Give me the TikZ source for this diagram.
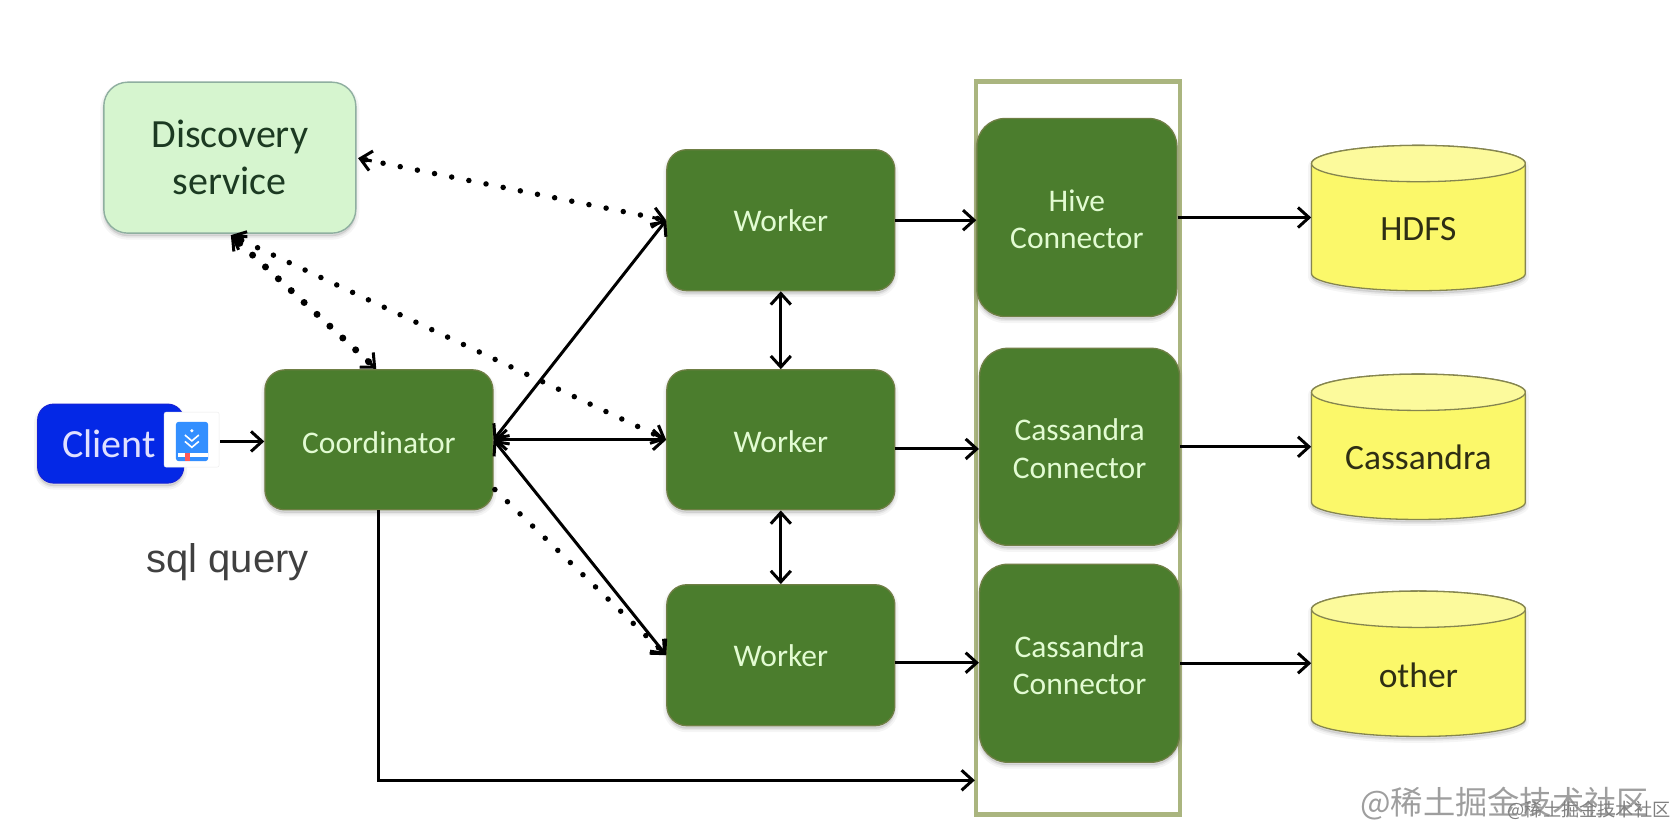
\documentclass[tikz,border=0pt]{standalone}
\usepackage{fontspec}
\setmainfont{Carlito}
\newfontfamily\lib{Liberation Sans}
\newfontfamily\cjk{Noto Sans CJK SC}
\usetikzlibrary{arrows.meta,calc}
\definecolor{wgreen}{HTML}{4B7D2D}
\definecolor{wedge}{HTML}{6F7F45}
\definecolor{wtext}{HTML}{E2FBD2}
\definecolor{lgreen}{HTML}{D6F5CF}
\definecolor{ledge}{HTML}{8FAFA0}
\definecolor{ltext}{HTML}{1C3A22}
\definecolor{cblue}{HTML}{0428E6}
\definecolor{frameol}{HTML}{AAB57F}
\definecolor{cyl}{HTML}{FBF86A}
\definecolor{cyltop}{HTML}{FCFA9C}
\definecolor{cyledge}{HTML}{85854F}
\definecolor{cyltext}{HTML}{2E2E14}
\tikzset{
 softshadow/.style={preaction={draw=black,fill=black,opacity=.04,line width=7pt,transform canvas={yshift=-3pt}},
   preaction={draw=black,fill=black,opacity=.06,line width=3pt,transform canvas={yshift=-3pt}}},
 greenbox/.style={softshadow,draw=wedge,fill=wgreen,line width=1.3pt,rounded corners=20pt,text=wtext,align=center,font=\fontsize{31.5}{37.5}\selectfont,inner sep=0pt},
 conn/.style={draw=black,line width=3pt,-{Straight Barb[length=11pt,width=20pt,line width=3pt]}},
 conn2/.style={draw=black,line width=3pt,{Straight Barb[length=11pt,width=20pt,line width=3pt]}-{Straight Barb[length=11pt,width=20pt,line width=3pt]}},
 dotline/.style={draw=black,line width=5.5pt,line cap=round,dash pattern=on 0pt off 17.5pt},
 heavydot/.style={draw=black,line width=7pt,line cap=round,dash pattern=on 0pt off 17.5pt},
 dblabel/.style={minimum width=214pt,inner sep=0pt,text=cyltext,font=\fontsize{35.5}{40}\selectfont},
 dbbody/.style={softshadow,draw=cyledge,fill=cyl,line width=1.3pt},
 dbtop/.style={draw=cyledge,fill=cyltop,line width=1.3pt},
}
\newcommand{\dbshape}[2]{% centre x, top y
  \draw[dbbody] (#1-100,#2+17) arc[start angle=180,end angle=360,x radius=100,y radius=17]
     -- (#1+100,#2+120) arc[start angle=0,end angle=180,x radius=100,y radius=16] -- cycle;
  \draw[dbtop] (#1,#2+17) ellipse[x radius=100,y radius=17];
}
\begin{document}
\begin{tikzpicture}[x=1.0689pt,y=-1.0689pt]
\useasboundingbox (0,0) rectangle (1568,774.6);
% nodes
\node[softshadow,draw=ledge,fill=lgreen,rounded corners=24pt,line width=1.4pt,minimum width=252pt,minimum height=151pt,align=center,text=ltext,font=\fontsize{40}{47}\selectfont,inner sep=0pt] (disc) at (215,147.5) {Discovery\\service};
\node[softshadow,draw=cblue!85!violet,fill=cblue,rounded corners=16pt,line width=1pt,minimum width=146pt,minimum height=79pt,text=white!88!blue,font=\fontsize{40}{44}\selectfont,inner sep=0pt] (client) at (103.5,415) {Client\hspace*{3pt}};
\node[greenbox,minimum width=228pt,minimum height=140pt] (coord) at (354.5,411.5) {\rule{0pt}{27pt}Coordinator};
\node[greenbox,minimum width=228pt,minimum height=141pt] (w1) at (730.5,206) {Worker};
\node[greenbox,minimum width=228pt,minimum height=140pt] (w2) at (730.5,411.5) {\rule{0pt}{26pt}Worker};
\node[greenbox,minimum width=228pt,minimum height=141pt] (w3) at (730.5,613) {Worker};
\node[draw=frameol,line width=4.5pt,minimum width=204pt,minimum height=733pt,inner sep=0pt] (frame) at (1008.5,419) {};
\node[greenbox,rounded corners=28pt,minimum width=200pt,minimum height=198pt] (hive) at (1007.5,203.5) {\rule{0pt}{25pt}Hive\\Connector};
\node[greenbox,rounded corners=28pt,minimum width=200pt,minimum height=197pt] (c1) at (1010,418) {\rule{0pt}{26pt}Cassandra\\Connector};
\node[greenbox,rounded corners=28pt,minimum width=200pt,minimum height=198pt] (c2) at (1010,620.5) {\rule{0pt}{26pt}Cassandra\\Connector};
\dbshape{1327}{136}
\dbshape{1327}{350}
\dbshape{1327}{553}
\node[dblabel] (hdfs) at (1327,214) {HDFS};
\node[dblabel] (cass) at (1327,428) {Cassandra};
\node[dblabel] (other) at (1327,632) {other};
\node[font=\lib\fontsize{40}{44}\selectfont,text=black!75] (sql) at (213,526) {sql query};
% icon
\node[draw=black!8,fill=white,rounded corners=2pt,minimum width=55pt,minimum height=55pt,inner sep=0pt] (icon) at (179.3,411.3) {};
\fill[blue!55!cyan!80!white,rounded corners=3pt] (164.5,394.6) rectangle (194.8,431.5);
\fill[white] (166.5,423.5) rectangle (194.8,428);
\fill[red!65] (173,423.5) rectangle (178,431);
\draw[white,line width=1.6pt] (173,407) -- (179.5,412.5) -- (186,407) (173,413) -- (179.5,418.5) -- (186,413);
\fill[white] (179.5,403) circle (1.6);
% solid connectors
\coordinate (ca) at (206,413);
\draw[conn] (ca) -- (coord.west |- ca);
\draw[conn2] (coord.east) -- (w1.west);
\draw[conn2] (coord.east) -- (w2.west);
\draw[conn2] (coord.east) -- (w3.west);
\draw[conn2] (w1.south) -- (w2.north);
\draw[conn2] (w2.south) -- (w3.north);
\draw[conn] (w1.east) -- (hive.west |- w1.east);
\coordinate (w2o) at (837,420);
\coordinate (w3o) at (837,620);
\draw[conn] (w2o) -- (c1.west |- w2o);
\draw[conn] (w3o) -- (c2.west |- w3o);
\draw[conn] (hive.east) -- (hdfs.west |- hive.east);
\draw[conn] (c1.east) -- (cass.west |- c1.east);
\draw[conn] (c2.east) -- (other.west |- c2.east);
\coordinate (fr) at (912,730);
\draw[conn] (coord.south) -- (coord.south |- fr) -- (fr);
% dotted
\coordinate (de) at (335,148);
\coordinate (ds) at (216,220);
\coordinate (cn) at (352,345);
\coordinate (cse) at (463,458);
\draw[dotline] ($(de)!8pt!(w1.west)$) -- ($(w1.west)!6pt!(de)$);
\draw[dotline] ($(ds)!12pt!(w2.west)$) -- ($(w2.west)!6pt!(ds)$);
\draw[heavydot] ($(ds)!12pt!(cn)$) -- ($(cn)!8pt!(ds)$);
\draw[dotline] (cse) -- ($(w3.west)!6pt!(cse)$);
\draw[conn] ($(de)!14pt!(w1.west)$) -- (de);
\draw[conn] ($(w1.west)!14pt!(de)$) -- (w1.west);
\draw[conn] ($(ds)!14pt!(w2.west)$) -- (ds);
\draw[conn] ($(w2.west)!14pt!(ds)$) -- (w2.west);
\draw[conn,line width=4pt] ($(ds)!14pt!(cn)$) -- (ds);
\draw[conn] ($(cn)!14pt!(ds)$) -- (cn);
\draw[conn] ($(w3.west)!14pt!(cse)$) -- (w3.west);
% watermarks
\node[font=\cjk\fontsize{32.3}{34}\selectfont,text=black!38,anchor=east,inner sep=0pt] (wm1) at (1543,752) {@稀土掘金技术社区};
\node[font=\cjk\fontsize{18.2}{20}\selectfont,text=black!50,anchor=east,inner sep=0pt] (wm2) at (1563,758) {@稀土掘金技术社区};
\end{tikzpicture}
\end{document}
